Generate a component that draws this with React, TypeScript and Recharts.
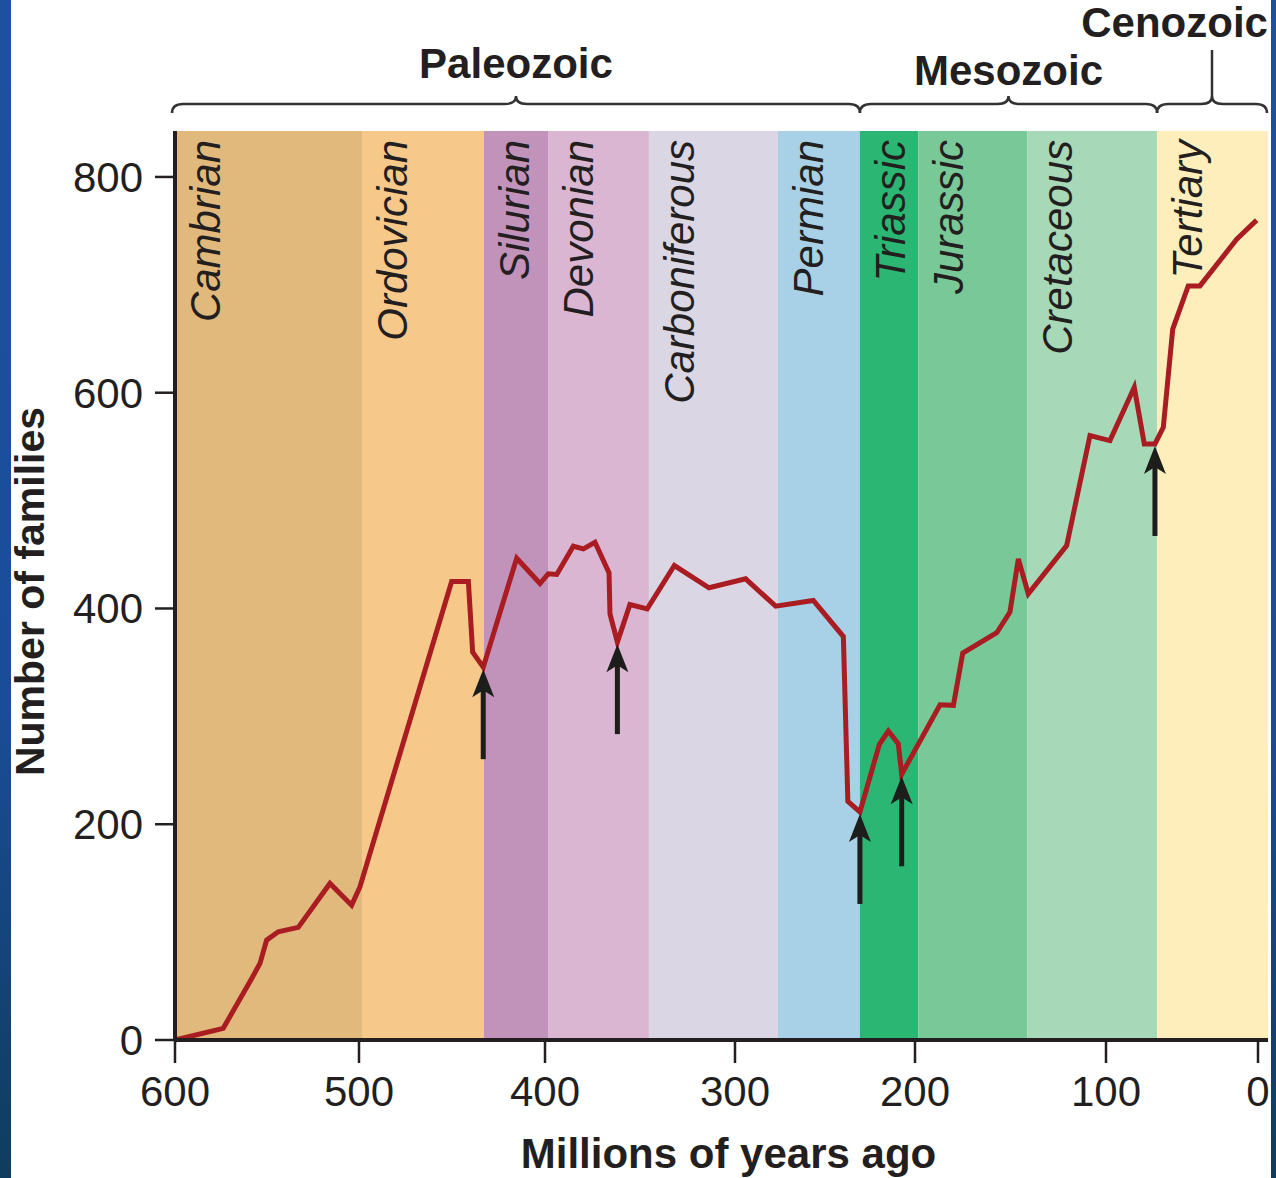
import React from 'react';
import { LineChart, Line, XAxis, YAxis, ReferenceArea, ReferenceDot, Label } from 'recharts';

// ---------- data ----------
const ageTicks = [600, 500, 400, 300, 200, 100, 0];
const familyTicks = [0, 200, 400, 600, 800];

// pixel spacing of each 100-Myr interval on the original (non-uniform) axis, plus the tail past 0
const ageKnots = [600, 500, 400, 300, 200, 100, 0, -6.6];
const knotSpacing = [184, 186, 190, 180, 191, 152, 10];

const periodNames = ['Cambrian', 'Ordovician', 'Silurian', 'Devonian', 'Carboniferous', 'Permian', 'Triassic', 'Jurassic', 'Cretaceous', 'Tertiary'];
const periodStarts = [600, 498.4, 432.8, 398.4, 345.3, 276.1, 230.6, 198.2, 141.1, 66.4];
const periodEnds = [498.4, 432.8, 398.4, 345.3, 276.1, 230.6, 198.2, 141.1, 66.4, -6.6];
const periodColors = ['#e1b97d', '#f6c98b', '#c293ba', '#dab6d3', '#dad6e3', '#a8d0e6', '#2bb673', '#79c898', '#a7d9b8', '#fdeebb'];

const eraNames = ['Paleozoic', 'Mesozoic', 'Cenozoic'];
const eraStarts = [601.6, 230.6, 66.4];
const eraEnds = [230.6, 66.4, -5.9];

const ages = [600, 573.8, 558.3, 553.8, 550.2, 543.9, 533, 515.8, 504, 499.5, 450.2, 441.2, 438.9, 433.2, 415.2, 402.7, 398.3, 393.8, 385.1, 379.8, 373.7, 366.3, 365.8, 361.9, 355.3, 346.2, 331.9, 313.7, 294.1, 277.4, 256.5, 239.8, 237.3, 230.6, 219.8, 214.8, 209.3, 207.4, 186.9, 179.9, 175, 157.2, 150.3, 145.9, 140.7, 120.6, 108.4, 97.4, 81.4, 74.8, 67.8, 62.3, 56.1, 45.9, 38.2, 14, 0.9];
const families = [0, 10.8, 57.1, 71, 92.6, 100.3, 104.4, 145.1, 125, 141.9, 425, 425, 359.5, 345.6, 446.6, 423.1, 432.1, 431.5, 457.7, 455.3, 461.4, 433, 395, 368.8, 403.7, 399.7, 439.8, 419.2, 427.5, 402.1, 407.4, 374, 221.3, 211.4, 274, 286.4, 274.7, 246.3, 310.8, 310.2, 358.6, 377.5, 396.6, 446, 413.6, 458.3, 560.2, 555.6, 605, 552.5, 552.5, 567.9, 659, 699, 699, 742.3, 760];

const extinctionAges = [433.2, 361.9, 230.6, 207.4, 67.8];
const extinctionFamilies = [345.6, 368.8, 211.4, 246.3, 552.5];

// ---------- helpers ----------
const FONT = '"Liberation Sans", Arial, Helvetica, sans-serif';
const INK = '#231f20';

const rows = ages.map((a, i) => ({ age: a, families: families[i] }));

function createPiecewiseScale(knots: number[], fracs: number[]): any {
  let dom: number[] = [knots[knots.length - 1], knots[0]];
  let rng: number[] = [0, 1];
  const toFrac = (v: number): number => {
    const n = knots.length;
    let i = 0;
    if (v >= knots[0]) i = 0;
    else if (v <= knots[n - 1]) i = n - 2;
    else {
      while (i < n - 2 && v < knots[i + 1]) i++;
    }
    const a0 = knots[i];
    const a1 = knots[i + 1];
    return fracs[i] + ((a0 - v) / (a0 - a1)) * (fracs[i + 1] - fracs[i]);
  };
  const scale: any = (v: any) => {
    const num = typeof v === 'number' ? v : Number(v);
    return rng[0] + toFrac(num) * (rng[1] - rng[0]);
  };
  scale.domain = (d?: any) => {
    if (d === undefined) return dom.slice();
    dom = Array.from(d as number[]);
    return scale;
  };
  scale.range = (r?: any) => {
    if (r === undefined) return rng.slice();
    rng = Array.from(r as number[]);
    return scale;
  };
  scale.copy = () => createPiecewiseScale(knots, fracs).domain(dom).range(rng);
  scale.ticks = () => ageTicks.slice();
  scale.tickFormat = () => (d: any) => String(d);
  scale.nice = () => scale;
  scale.clamp = () => scale;
  scale.invert = (px: number) => {
    const f = (px - rng[0]) / (rng[1] - rng[0]);
    for (let i = 0; i < fracs.length - 1; i++) {
      if (f <= fracs[i + 1] || i === fracs.length - 2) {
        const t = (f - fracs[i]) / (fracs[i + 1] - fracs[i]);
        return knots[i] + t * (knots[i + 1] - knots[i]);
      }
    }
    return knots[0];
  };
  return scale;
}

const totalSpacing = knotSpacing.reduce((s, v) => s + v, 0);
const knotFracs: number[] = [0];
knotSpacing.forEach((s) => knotFracs.push(knotFracs[knotFracs.length - 1] + s / totalSpacing));
const ageScale = createPiecewiseScale(ageKnots, knotFracs);

const periodLabel = (name: string) => (props: any) => {
  const vb = props.viewBox;
  if (!vb) return null;
  const x = vb.x + 45;
  const y = vb.y + 9;
  return (
    <text
      transform={`translate(${x},${y}) rotate(-90)`}
      textAnchor="end"
      fontStyle="italic"
      fontSize={42}
      fontFamily={FONT}
      fill={INK}
    >
      {name}
    </text>
  );
};

const eraLabelStyle: Record<string, { anchor: 'middle' | 'end'; baseline: number; stem: boolean }> = {
  Paleozoic: { anchor: 'middle', baseline: 53, stem: false },
  Mesozoic: { anchor: 'middle', baseline: 46, stem: false },
  Cenozoic: { anchor: 'end', baseline: 94, stem: true },
};

const eraBrace = (name: string) => (props: any) => {
  const vb = props.viewBox;
  if (!vb) return null;
  const top = vb.y;
  const x0 = vb.x;
  const x1 = vb.x + vb.width;
  const tip = (x0 + x1) / 2;
  const ly = top - 27;
  const ey = top - 18;
  const ty = top - 35;
  const r = 11;
  const d = `M${x0},${ey} Q${x0},${ly} ${x0 + r},${ly} L${tip - r},${ly} Q${tip},${ly} ${tip},${ty} Q${tip},${ly} ${tip + r},${ly} L${x1 - r},${ly} Q${x1},${ly} ${x1},${ey}`;
  const st = eraLabelStyle[name];
  const tx = st.anchor === 'middle' ? tip : x1 + 1;
  return (
    <g>
      <path d={d} fill="none" stroke="#333" strokeWidth={2.5} />
      {st.stem ? <line x1={tip} y1={ty} x2={tip} y2={top - 81} stroke="#333" strokeWidth={2.5} /> : null}
      <text x={tx} y={top - st.baseline} textAnchor={st.anchor} fontSize={42} fontWeight="bold" fontFamily={FONT} fill={INK}>
        {name}
      </text>
    </g>
  );
};

const ArrowShape = (p: any) => {
  const { cx, cy } = p;
  if (cx == null || cy == null) return null;
  const tipY = cy + 2;
  const len = 90;
  return (
    <g>
      <rect x={cx - 2.5} y={tipY + 18} width={5} height={len - 18} fill="#1d1d1b" />
      <polygon points={`${cx},${tipY} ${cx + 11},${tipY + 28} ${cx},${tipY + 21} ${cx - 11},${tipY + 28}`} fill="#1d1d1b" />
    </g>
  );
};

const YTitle = (props: any) => {
  const vb = props.viewBox;
  if (!vb) return null;
  const cy = vb.y + vb.height / 2 + 6;
  return (
    <text transform={`translate(44,${cy}) rotate(-90)`} textAnchor="middle" fontSize={41} fontWeight="bold" fontFamily={FONT} fill={INK}>
      Number of families
    </text>
  );
};

const XTitle = (props: any) => {
  const vb = props.viewBox;
  if (!vb) return null;
  const cx = vb.x + vb.width / 2 + 7;
  return (
    <text x={cx} y={vb.y + 128} textAnchor="middle" fontSize={42} fontWeight="bold" fontFamily={FONT} fill={INK}>
      Millions of years ago
    </text>
  );
};

export default function App() {
  return (
    <div style={{ position: 'absolute', left: 0, top: 0, width: 1276, height: 1178, background: '#ffffff', overflow: 'hidden' }}>
      <div style={{ position: 'absolute', left: 0, top: 0, width: 11, height: 1178, background: 'linear-gradient(180deg, #1d51a0 0%, #1a4d98 60%, #0f3c5e 100%)' }} />
      <div style={{ position: 'absolute', left: 1271, top: 0, width: 5, height: 1178, background: 'linear-gradient(180deg, #1d51a0 0%, #1a4d98 60%, #0f3c5e 100%)' }} />
      <div style={{ position: 'absolute', left: 0, top: 0 }}>
        <LineChart width={1276} height={1178} data={rows} margin={{ top: 131, right: 8, bottom: 0, left: 0 }}>
          {periodNames.map((n, i) => (
            <ReferenceArea
              key={n}
              x1={periodStarts[i]}
              x2={periodEnds[i]}
              fill={periodColors[i]}
              fillOpacity={1}
              stroke="none"
              ifOverflow="visible"
              label={periodLabel(n)}
            />
          ))}
          {eraNames.map((n, i) => (
            <ReferenceArea
              key={n}
              x1={eraStarts[i]}
              x2={eraEnds[i]}
              fill="none"
              fillOpacity={0}
              stroke="none"
              ifOverflow="visible"
              label={eraBrace(n)}
            />
          ))}
          <XAxis
            dataKey="age"
            type="number"
            scale={ageScale}
            domain={[-6.6, 600]}
            ticks={ageTicks}
            interval={0}
            height={138}
            tickSize={23}
            tickMargin={13}
            axisLine={{ stroke: INK, strokeWidth: 4 }}
            tickLine={{ stroke: INK, strokeWidth: 2.5 }}
            tick={{ fill: INK, fontSize: 42, fontFamily: FONT }}
          >
            <Label content={XTitle} />
          </XAxis>
          <YAxis
            type="number"
            domain={[0, 842.6]}
            ticks={familyTicks}
            interval={0}
            width={175}
            tickSize={20}
            tickMargin={12}
            axisLine={{ stroke: INK, strokeWidth: 4 }}
            tickLine={{ stroke: INK, strokeWidth: 2.5 }}
            tick={{ fill: INK, fontSize: 42, fontFamily: FONT }}
          >
            <Label content={YTitle} />
          </YAxis>
          <Line
            dataKey="families"
            type="linear"
            stroke="#a91d22"
            strokeWidth={5}
            dot={false}
            activeDot={false}
            isAnimationActive={false}
          />
          {extinctionAges.map((a, i) => (
            <ReferenceDot key={a} x={a} y={extinctionFamilies[i]} r={1} ifOverflow="visible" shape={ArrowShape} />
          ))}
        </LineChart>
      </div>
    </div>
  );
}
